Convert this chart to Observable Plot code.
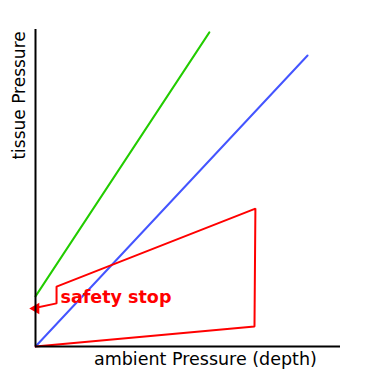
<!DOCTYPE html>
<html>
<head>
<meta charset="utf-8">
<script src="https://cdn.jsdelivr.net/npm/d3@7"></script>
<script src="https://cdn.jsdelivr.net/npm/@observablehq/plot@0.6"></script>
<style>
  html, body { margin: 0; padding: 0; background: white; }
</style>
</head>
<body>
<div id="chart"></div>
<script>
// Data (arbitrary units, 0..100 on both axes)
const greenX = [0, 57.0];
const greenY = [15.8, 99.1];
const blueX = [0, 89.2];
const blueY = [0, 91.8];
const redX = [0, 71.8, 72.1, 6.9, 6.9, -1.0];
const redY = [0, 6.3, 43.5, 18.9, 13.6, 12.0];
const xLabel = "ambient Pressure (depth)";
const yLabel = "tissue Pressure";
const noteText = "safety stop";
const noteX = [8.2];
const noteY = [15.6];

const toRows = (xs, ys) => xs.map((x, i) => ({x, y: ys[i]}));
const green = toRows(greenX, greenY);
const blue = toRows(blueX, blueY);
const red = toRows(redX, redY);
const tip = red[red.length - 1];

const chart = Plot.plot({
  width: 380,
  height: 380,
  marginLeft: 35,
  marginRight: 40,
  marginTop: 29,
  marginBottom: 34,
  x: {domain: [0, 100], axis: null},
  y: {domain: [0, 100], axis: null},
  style: {fontFamily: "DejaVu Sans", background: "white", overflow: "visible"},
  marks: [
    Plot.line(green, {x: "x", y: "y", stroke: "#22cc00", strokeWidth: 2}),
    Plot.line(blue, {x: "x", y: "y", stroke: "#4455ff", strokeWidth: 2}),
    Plot.line(red, {x: "x", y: "y", stroke: "#ff0000", strokeWidth: 2, strokeLinejoin: "miter"}),
    Plot.dot([tip], {x: "x", y: "y", symbol: "triangle", rotate: -90, r: 4.3, fill: "#ff0000", stroke: "none", dx: 3.5}),
    Plot.ruleX([0], {stroke: "black", strokeWidth: 2}),
    Plot.ruleY([0], {stroke: "black", strokeWidth: 2}),
    Plot.text([noteText], {x: noteX, y: noteY, text: d => d, textAnchor: "start", fill: "#ff0000", fontWeight: "bold", fontSize: 17.5}),
    Plot.text([xLabel], {x: [55.7], frameAnchor: "bottom", text: d => d, textAnchor: "middle", lineAnchor: "middle", dy: 12.4, fontSize: 17.5, fill: "black"}),
    Plot.text([yLabel], {y: [79.2], frameAnchor: "left", text: d => d, textAnchor: "middle", lineAnchor: "middle", dx: -16.4, rotate: -90, fontSize: 17, fill: "black"})
  ]
});
document.getElementById("chart").appendChild(chart);
</script>
</body>
</html>
